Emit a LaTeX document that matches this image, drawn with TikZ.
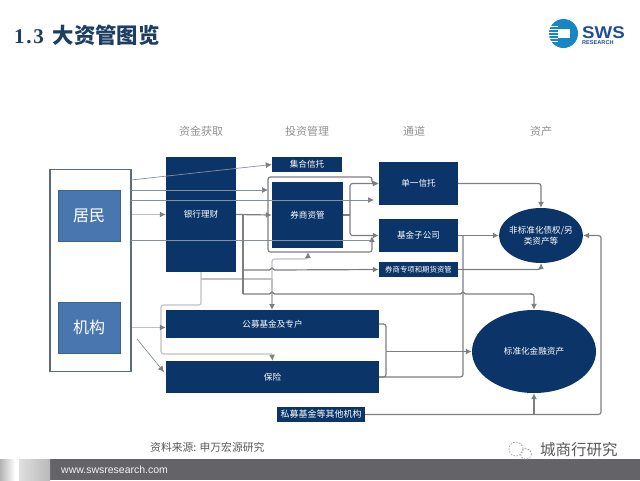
\documentclass[tikz,border=0pt]{standalone}
\usepackage{fontspec}
\setmainfont{Liberation Sans}
\newfontfamily\cjk{Noto Sans CJK SC}
\newfontfamily\serifnum[LetterSpace=8]{Liberation Serif}
\usetikzlibrary{arrows.meta,shapes.geometric}
\definecolor{navy}{HTML}{0B3468}
\definecolor{titlecol}{HTML}{1C3E62}
\definecolor{midblue}{HTML}{4A76B0}
\definecolor{midedge}{HTML}{3E6188}
\definecolor{frameedge}{HTML}{5B6C7A}
\definecolor{wire}{HTML}{7C7E82}
\definecolor{lightwire}{HTML}{BEC0C2}
\definecolor{thinwire}{HTML}{84909C}
\definecolor{headgray}{HTML}{909090}
\definecolor{barcol}{HTML}{646367}
\definecolor{logoblue}{HTML}{1787C4}
\definecolor{logotext}{HTML}{1F4E96}
\tikzset{
  x=1pt,y=-1pt,
  navybox/.style={fill=navy,draw=none,inner sep=0pt,text=white,font=\cjk\fontsize{8.6}{10.5}\selectfont,align=center},
  bluebox/.style={fill=midblue,draw=midedge,line width=1pt,inner sep=0pt,text=white,font=\cjk\fontsize{16}{18}\selectfont,minimum width=62pt,minimum height=51pt},
  head/.style={text=headgray,font=\cjk\fontsize{11}{13}\selectfont,inner sep=0pt},
  wiretip/.style={-{Latex[length=6pt,width=6pt,color=wire]}},
  heavy/.style={draw=wire,line width=1.2pt,rounded corners=2.5pt},
  pale/.style={draw=lightwire,line width=1.2pt,rounded corners=2.5pt},
  fine/.style={draw=thinwire,line width=.7pt},
}
\begin{document}
\begin{tikzpicture}
\useasboundingbox (0,0) rectangle (640,480);
% footer
\fill[barcol] (50,459) rectangle (640,480);
\shade[left color=gray!60,right color=white] (0,459) rectangle (15,480);
\fill[white] (15,459) rectangle (19,480);
\shade[left color=gray!25,right color=gray!55] (19,459) rectangle (50,480);
\node[anchor=west,inner sep=0pt,text=white!90!gray,font=\fontsize{10.5}{12}\selectfont] (web) at (61,469.5) {www.swsresearch.com};
% title
\node[anchor=west,inner sep=0pt,text=titlecol,font=\cjk\bfseries\fontsize{21.4}{23}\selectfont] (title) at (14,35) {{\serifnum\bfseries\fontsize{21}{23}\selectfont 1.3}\hspace{4pt} 大资管图览};
% logo
\fill[logoblue] (563.5,33.5) circle (14.5);
\fill[white] (558,29) rectangle (570,38);
\foreach \yy in {26,29,32,35,38,41}{\fill[white] (549,\yy) rectangle (558,\yy+1.2);}
\node[anchor=west,inner sep=0pt,text=logotext,font=\bfseries\fontsize{17}{18}\selectfont,xscale=1.1] (sws) at (582,32.5) {SWS};
\node[anchor=west,inner sep=0pt,text=logotext,font=\bfseries\fontsize{5.6}{6}\selectfont] (res) at (582,43) {RESEARCH};
% heads
\node[head] (h1) at (201,131.5) {资金获取};
\node[head] (h2) at (307,131.5) {投资管理};
\node[head] (h3) at (414,131.5) {通道};
\node[head] (h4) at (541,131.5) {资产};
% left frame
\node[draw=frameedge,line width=1.8pt,fill=white,minimum width=81pt,minimum height=202pt,inner sep=0pt] (outer) at (90.5,270.5) {};
\node[bluebox] (jumin) at (89,215.5) {居民};
\node[bluebox] (jigou) at (89,327.5) {机构};
% dark boxes
\node[navybox,minimum width=70pt,minimum height=115pt] (bank) at (201,214.5) {银行理财};
\node[navybox,minimum width=70pt,minimum height=15pt] (jihe) at (307,164.5) {集合信托};
\node[navybox,minimum width=71pt,minimum height=66pt] (quan) at (307.5,215) {券商资管};
\node[navybox,minimum width=79pt,minimum height=43pt] (dan) at (418.5,183.5) {单一信托};
\node[navybox,minimum width=79pt,minimum height=33pt] (jijin) at (418.5,235.5) {基金子公司};
\node[navybox,minimum width=79pt,minimum height=15pt,font=\cjk\fontsize{7.4}{9}\selectfont] (zhuan) at (418.5,269.5) {券商专项和期货资管};
\node[navybox,minimum width=213pt,minimum height=28pt] (gong) at (272.5,324) {公募基金及专户};
\node[navybox,minimum width=213pt,minimum height=32pt] (bao) at (272.5,377) {保险};
\node[navybox,minimum width=88pt,minimum height=15pt,font=\cjk\fontsize{9}{11}\selectfont] (si) at (321,414.5) {私募基金等其他机构};
\node[navybox,ellipse,minimum width=84pt,minimum height=55pt,label={[text=white,font=\cjk\fontsize{8.6}{11}\selectfont,align=center,inner sep=0pt]center:非标准化债权/另\\类资产等}] (fei) at (541,235.5) {};
\node[navybox,ellipse,minimum width=124pt,minimum height=83pt] (biao) at (534,351.5) {标准化金融资产};
% junction coordinates
\coordinate (a180) at (131,180);
\coordinate (a190) at (131,190);
\coordinate (a200) at (131,200);
\coordinate (a240) at (131,240.5);
\coordinate (fw) at (268,215);
\coordinate (br) at (350,215);
\coordinate (tr) at (243,215);
\coordinate (pale0) at (272,279);
% pale routes
\draw[pale] (201,272) -- (201,305) -- (161,305) -- (161,354) -- (272,354);
\draw[pale,wiretip] (272,354) -- (bao.north);
\draw[pale] (201,279) -- (pale0);
\draw[pale,wiretip] (pale0) -- (272,310);
\draw[pale,wiretip] (pale0) -- (272,259) -- (308,259) -- (308,252);
\draw[pale,wiretip] (outer.east |- bank.west) -- (bank.west);
\draw[pale,wiretip] (outer.east |- jigou.east) -- (gong.west |- jigou.east);
% thin routes
\draw[fine,wiretip] (a180) -- (jihe.west);
\draw[fine,wiretip] (a190) -- (fw |- a190);
\draw[fine,wiretip] (a200) -- (374,200);
\draw[fine] (a240) -- (372,240.5);
\draw[fine,wiretip] (137,339) -- (164,372);
% heavy routes
\draw[heavy,wiretip] (bank.east) -- (quan.west);
\draw[heavy] (tr) -- (243,294);
\draw[heavy,rounded corners=0pt,wiretip] (243,270) -- (269.5,270) .. controls (270.5,270) and (271,268) .. (272,268) .. controls (273,268) and (273.5,270) .. (274.5,270) -- (zhuan.west);
\draw[heavy,rounded corners=0pt] (243,294) -- (269.5,294) .. controls (270.5,294) and (271,292) .. (272,292) .. controls (273,292) and (273.5,294) .. (274.5,294) -- (460.5,294) .. controls (461.5,294) and (462,292) .. (463,292) .. controls (464,292) and (464.5,294) .. (465.5,294) -- (532,294);
\draw[heavy,wiretip] (530,294) -- (534,294) -- (biao.north);
\draw[heavy,wiretip] (fw) -- (268,177) -- (372,177) -- (372,183.5) -- (dan.west);
\draw[heavy,wiretip] (fw) -- (268,252) -- (372,252) -- (372,236);
\draw[heavy] (quan.east) -- (br);
\draw[heavy,wiretip] (br) -- (350,183.5) -- (dan.west);
\draw[heavy,wiretip] (br) -- (350,235.5) -- (jijin.west);
\draw[heavy,wiretip] (dan.east) -- (541,183.5) -- (fei.north);
\draw[heavy,wiretip] (jijin.east) -- (fei.west);
\draw[heavy] (463,235.5) -- (463,377) -- (bao.east);
\draw[heavy,wiretip] (zhuan.east) -- (541,269.5) -- (fei.south);
\draw[heavy] (gong.east) -- (386,324) -- (386,351.5);
\draw[heavy] (bao.east) -- (386,377) -- (386,351.5);
\draw[heavy,wiretip] (386,351.5) -- (biao.west);
\draw[heavy,wiretip] (si.east) -- (601,414.5) -- (601,235.5) -- (fei.east);
\draw[heavy,wiretip] (534,414.5) -- (biao.south);
% source
\node[anchor=west,inner sep=0pt,text=black!65,font=\cjk\fontsize{10.8}{13}\selectfont] (src) at (150,447.5) {资料来源: 申万宏源研究};
% watermark
\draw[gray!70,line width=.8pt,dash pattern=on 1.5pt off 1.5pt] (516,449) circle (7);
\draw[gray!70,line width=.8pt,dash pattern=on 1.5pt off 1.5pt] (526,454) circle (5.5);
\node[anchor=west,inner sep=0pt,text=black!65,font=\cjk\fontsize{15.5}{17}\selectfont] (wm) at (540,450) {城商行研究};
\end{tikzpicture}
\end{document}
